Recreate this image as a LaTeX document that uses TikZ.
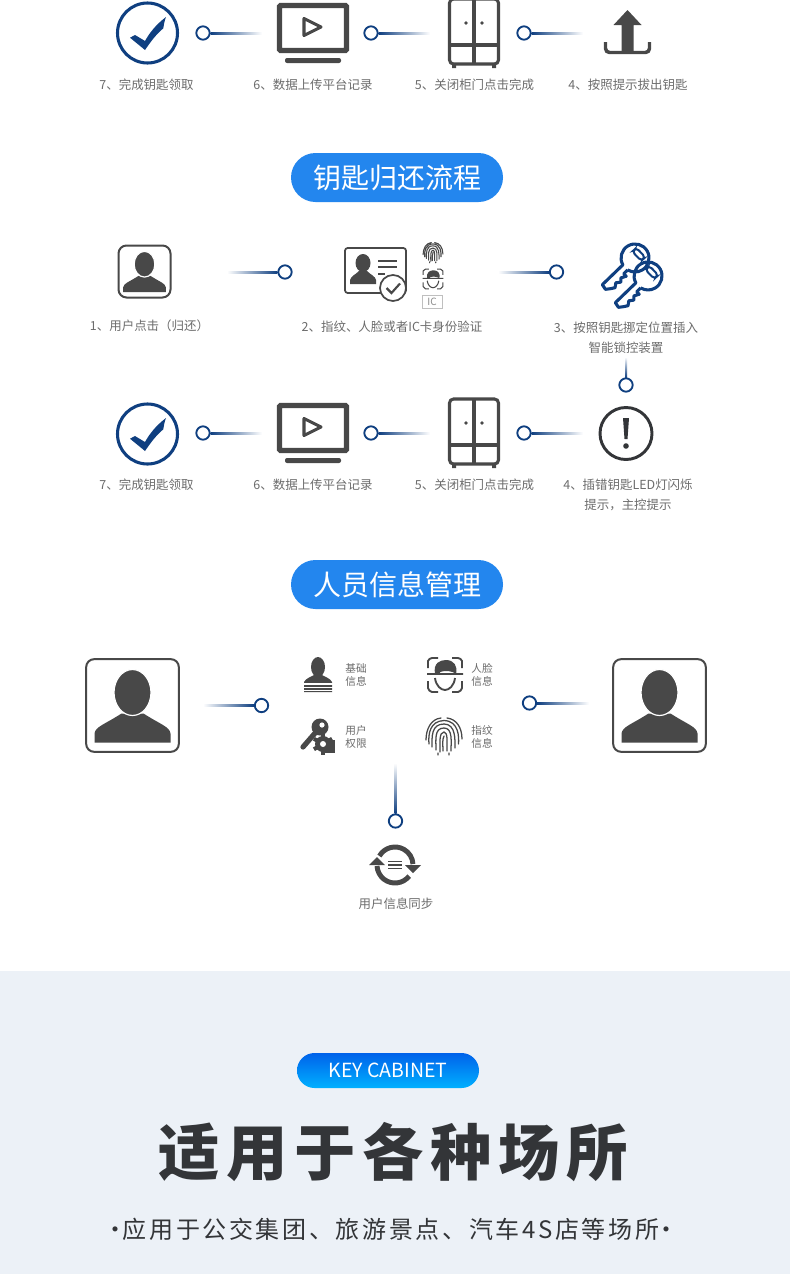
\documentclass[tikz,border=0pt]{standalone}
\usepackage{fontspec}
\setmainfont{Noto Sans CJK SC}
\usetikzlibrary{calc,shapes.misc}
\definecolor{navy}{HTML}{0F3F80}
\definecolor{icon}{HTML}{484848}
\definecolor{txt}{HTML}{6C6C6C}
\definecolor{band}{HTML}{ECF1F7}
\definecolor{pillblue}{HTML}{2386EE}
\definecolor{ink}{HTML}{333538}
\definecolor{gradtop}{HTML}{0062EA}
\definecolor{gradbot}{HTML}{00B0FF}
\tikzset{
  x=0.75pt,y=-0.75pt,
  ring/.style={circle,draw=navy,fill=white,line width=1.4pt,minimum size=10pt,inner sep=0pt},
  lbl/.style={text=txt,font=\fontsize{9.35pt}{11pt}\selectfont,inner sep=0pt},
  tiny/.style={text=txt,font=\fontsize{8pt}{9.75pt}\selectfont,inner sep=0pt,align=center},
  pill/.style={rounded rectangle,fill=pillblue,text=white,minimum width=159pt,minimum height=36.75pt,inner sep=0pt,
    font=\fontsize{21pt}{25pt}\selectfont},
  frame/.style={draw=icon,rounded corners=6pt,line width=1.5pt,fill=white,inner sep=0pt},
}
\newcommand\connR[2]{\shade[left color=navy,right color=white] ($(#1.east)+(0,-1)$) rectangle ($(#2)+(0,1)$);}
\newcommand\connL[2]{\shade[left color=white,right color=navy] ($(#2)+(0,-1)$) rectangle ($(#1.west)+(0,1)$);}
\newcommand\connV[2]{\shade[top color=white,bottom color=navy] ($(#2)+(-1,0)$) rectangle ($(#1.north)+(1,0)$);}
\newcommand\personIcon[3]{\begin{scope}[shift={(#1,#2)},scale=#3]
  \fill[icon] (-38,37) -- (-38,28) .. controls (-37,21) and (-28,19) .. (-11,8) -- (11,8) .. controls (28,19) and (37,21) .. (38,28) -- (38,37) -- cycle;
  \fill[icon,draw=white,line width=0.9pt] (0,-13) ellipse [x radius=18.5,y radius=23];
\end{scope}}
\newcommand\checkIcon[2]{\begin{scope}[shift={(#1,#2)}]
  \draw[navy,line width=2.3pt] (0,0) circle (30);
  \fill[navy] (-17.5,4.7) -- (-12.5,2) -- (-2.5,8) .. controls (2,0) and (8,-8) .. (18.5,-16) .. controls (16.5,-11) and (16.5,-8) .. (15.8,-4.7) .. controls (8,2) and (3,9) .. (-2.5,17) -- cycle;
\end{scope}}
\newcommand\tvIcon[2]{\begin{scope}[shift={(#1,#2)}]
  \draw[icon,line width=4.1pt,rounded corners=1pt] (-33.5,-27.5) rectangle (33.5,17.5);
  \draw[icon,line width=2.3pt,line join=round] (-9,-14.5) -- (8,-6) -- (-9,2.5) -- cycle;
  \fill[icon,rounded corners=1.5pt] (-28,25) rectangle (28,30);
\end{scope}}
\newcommand\cabinetIcon[2]{\begin{scope}[shift={(#1,#2)}]
  \draw[icon,line width=2.3pt,rounded corners=3pt] (-24.5,-34) rectangle (24.5,31);
  \draw[icon,line width=2.3pt] (0,-34) -- (0,31) (-24.5,12) -- (24.5,12);
  \fill[icon] (-8,-10) circle (1.8) (8,-10) circle (1.8);
  \fill[icon] (-22,31) rectangle (-18,35) (18,31) rectangle (22,35);
\end{scope}}
\newcommand\faceIcon[4]{\begin{scope}[shift={(#1,#2)},scale=#3]
  \draw[icon,line width=#4] (-17,-7) -- (-17,-14) to[bend left=30] (-13,-17) -- (-7,-17)
     (7,-17) -- (13,-17) to[bend left=30] (17,-14) -- (17,-7)
     (-17,6) -- (-17,13) to[bend right=30] (-13,17) -- (-7,17)
     (7,17) -- (13,17) to[bend right=30] (17,13) -- (17,6)
     (-18,-1) -- (18,-1);
  \fill[icon] (-10,-1) .. controls (-12,-12) and (-5,-15) .. (1,-15) .. controls (9,-15) and (13,-9) .. (11,-1) .. controls (8,-4) and (0,-5) .. (-5,-3) -- (-5,-1) -- cycle;
  \draw[icon,line width=#4] (-10,3) .. controls (-9,11) and (-4,15) .. (0,15) .. controls (4,15) and (9,11) .. (10,3);
\end{scope}}
\newcommand\fingerIcon[4]{\begin{scope}[shift={(#1,#2)},scale=#3]
  \draw[icon,line width=#4,line cap=round]
    (-1,14) .. controls (-1,8) and (-2,3) .. (0,-1)
    (-4,15) .. controls (-4,6) and (-5,-5) .. (0,-5) .. controls (4,-5) and (3,6) .. (3,14)
    (-8,13) .. controls (-8,3) and (-10,-9) .. (0,-9) .. controls (9,-9) and (7,5) .. (7,14)
    (-12,10) .. controls (-12,0) and (-13,-13) .. (0,-13) .. controls (12,-13) and (11,3) .. (11,11)
    (-15,7) .. controls (-16,-3) and (-14,-16) .. (0,-16.5) .. controls (15,-16) and (15,0) .. (14.5,7)
    (-18,3) .. controls (-18,-8) and (-13,-18) .. (-3,-19)
    (3,-19) .. controls (12,-18) and (18,-10) .. (18,2)
    (-6,18) -- (-6,16) (5,18) -- (5,16);
\end{scope}}
\newcommand\keyShape[3]{\begin{scope}[shift={(#1,#2)},rotate=#3]
  \draw[navy,line width=2.3pt,line join=round]
    (13.5,-3.5) -- (19,-3.5) -- (19,-7) -- (24,-4.5) -- (27,-7.5) -- (31,-4.5) -- (35,-7.5) -- (39,-5) -- (43,-2) -- (42,3.5) -- (13.5,3.5)
    arc[start angle=14.5,end angle=345.5,radius=14];
  \draw[navy,line width=1.5pt,rounded corners=2.5pt] (-8,-6.5) rectangle (-2.5,6.5);
\end{scope}}
\begin{document}
\begin{tikzpicture}
\clip (0,0) rectangle (790,1274);
\fill[white] (0,0) rectangle (790,1274);

% ---- top row
\checkIcon{147.5}{33}
\tvIcon{313}{33}
\cabinetIcon{474}{33}
\begin{scope}[shift={(627.5,33)}]
  \fill[icon] (0,-23) -- (14,-8) -- (6,-8) -- (6,19) -- (-6,19) -- (-6,-8) -- (-14,-8) -- cycle;
  \draw[icon,line width=2.6pt,rounded corners=3pt] (-22,9) -- (-22,19.5) -- (22,19.5) -- (22,9);
\end{scope}
\node[ring] (a1) at (203,33) {}; \coordinate (a1e) at (262,33); \connR{a1}{a1e}
\node[ring] (a2) at (371,33) {}; \coordinate (a2e) at (430,33); \connR{a2}{a2e}
\node[ring] (a3) at (524,33) {}; \coordinate (a3e) at (583,33); \connR{a3}{a3e}
\node[lbl] (ta7) at (146.5,85) {7、完成钥匙领取};
\node[lbl] (ta6) at (313,85) {6、数据上传平台记录};
\node[lbl] (ta5) at (474.5,85) {5、关闭柜门点击完成};
\node[lbl] (ta4) at (628,85) {4、按照提示拔出钥匙};

% ---- section 2
\node[pill] (p1) at (397,177.5) {钥匙归还流程};

\node[frame,minimum width=39pt,minimum height=39pt] (u1) at (144.5,271.5) {};
\personIcon{144.5}{271.5}{0.56}
\node[ring] (b1) at (285,272) {}; \coordinate (b1e) at (227,272); \connL{b1}{b1e}
\node[lbl] (tb1) at (149.5,326) {1、用户点击（归还）};

\draw[icon,line width=1.3pt,rounded corners=2pt] (345,248) rectangle (406,293);
\begin{scope}[shift={(363,273)}]
  \fill[icon] (-13,11) -- (-13,7) .. controls (-12,3) and (-8,2) .. (-4,-2) -- (4,-2) .. controls (8,2) and (12,3) .. (13,7) -- (13,11) -- cycle;
  \fill[icon] (0,-10) ellipse [x radius=7.5,y radius=9];
\end{scope}
\draw[icon,line width=1.2pt] (378,261) -- (397,261) (378,267) -- (397,267) (378,274) -- (385,274);
\draw[icon,line width=1.3pt,fill=white] (393,288) circle (13);
\draw[icon,line width=1.6pt] (386.5,288) -- (391.5,293) -- (400,283.5);
\fingerIcon{433}{253}{0.55}{0.8pt}
\faceIcon{433}{279}{0.58}{0.8pt}
\node[draw=black!25,text=black!45,inner sep=0pt,minimum width=15pt,minimum height=10pt,font=\fontsize{7.5pt}{8pt}\selectfont,line width=.6pt] (ic) at (432,302) {IC};
\node[lbl] (tb2) at (392,327) {2、指纹、人脸或者IC卡身份验证};

\node[ring] (b2) at (556.5,272) {}; \coordinate (b2e) at (498,272);
\shade[left color=white,middle color=icon,right color=navy] ($(b2e)+(0,-1)$) rectangle ($(b2.west)+(0,1)$);

\keyShape{635}{258}{224}
\keyShape{648}{276}{224}
\node[lbl] (tb3) at (626,328) {3、按照钥匙挪定位置插入};
\node[lbl] (tb3b) at (626,348) {智能锁控装置};
\node[ring] (b3) at (626,385) {}; \coordinate (b3e) at (626,357); \connV{b3}{b3e}

% ---- row 3
\checkIcon{147.5}{434}
\tvIcon{313}{433}
\cabinetIcon{474}{433}
\draw[ink,line width=2.2pt] (626,433.5) circle (26);
\fill[ink] (623,418) -- (629,418) -- (627.5,439) -- (624.5,439) -- cycle;
\fill[ink] (626,446) circle (2.8);
\node[ring] (c1) at (203,433) {}; \coordinate (c1e) at (262,433); \connR{c1}{c1e}
\node[ring] (c2) at (371,433) {}; \coordinate (c2e) at (430,433); \connR{c2}{c2e}
\node[ring] (c3) at (524,433) {}; \coordinate (c3e) at (583,433); \connR{c3}{c3e}
\node[lbl] (tc7) at (146.5,485) {7、完成钥匙领取};
\node[lbl] (tc6) at (313,485) {6、数据上传平台记录};
\node[lbl] (tc5) at (474.5,485) {5、关闭柜门点击完成};
\node[lbl] (tc4) at (628,485) {4、插错钥匙LED灯闪烁};
\node[lbl] (tc4b) at (628,505) {提示，主控提示};

% ---- section 3
\node[pill] (p2) at (397,584.5) {人员信息管理};

\node[frame,minimum width=69.5pt,minimum height=69.5pt] (u2) at (132.5,705.5) {};
\personIcon{132.5}{705.5}{1}
\node[frame,minimum width=69.5pt,minimum height=69.5pt] (u3) at (659.5,705.5) {};
\personIcon{659.5}{705.5}{1}
\node[ring] (d1) at (261.5,705.5) {}; \coordinate (d1e) at (203,705.5); \connL{d1}{d1e}
\node[ring] (d2) at (529.5,703) {}; \coordinate (d2e) at (589,703); \connR{d2}{d2e}

% basic info
\fill[icon] (318,667) ellipse [x radius=7,y radius=10];
\fill[icon] (304,692) -- (304,682) .. controls (306,678) and (311,677) .. (314,675) -- (322,675) .. controls (325,677) and (330,678) .. (332,682) -- (332,692) -- cycle;
\draw[white,line width=.8pt] (303,684) -- (333,684) (303,687.5) -- (333,687.5) (303,690.8) -- (333,690.8);
\node[tiny] (ti1) at (356,675) {基础\\信息};

\faceIcon{445}{675}{1}{1.4pt}
\node[tiny] (ti2) at (482,675) {人脸\\信息};

% permission
\fill[icon] (320,727) circle (8.5);
\draw[icon,line width=3.9pt,line cap=round] (316,732) -- (303,747);
\fill[white] (322,725) circle (2.6);
\fill[icon] (325,740) rectangle (335,753);
\fill[white] (323,752) rectangle (325,754);
\fill[icon] (323,744) circle (8);
\foreach \a in {0,60,...,300}{\fill[icon,rotate around={\a:(323,744)}] (321,733.5) rectangle (325,738);}
\fill[white] (323,744) circle (3);
\node[tiny] (ti3) at (356,736.5) {用户\\权限};

\fingerIcon{444}{737}{1}{0.95pt}
\node[tiny] (ti4) at (482,736.5) {指纹\\信息};

\node[ring] (d3) at (395.5,821) {}; \coordinate (d3e) at (395.5,763); \connV{d3}{d3e}

% sync
\begin{scope}[shift={(395,865)}]
  \draw[icon,line width=3.7pt] (-150:18) arc[start angle=-150,end angle=-3,radius=18];
  \draw[icon,line width=3.7pt] (38:18) arc[start angle=38,end angle=177,radius=18];
  \fill[icon] (10,0) -- (26,0) -- (18,8) -- cycle;
  \fill[icon] (-26,0) -- (-10,0) -- (-18,-8) -- cycle;
  \draw[icon,line width=1.2pt] (-7,-3.5) -- (7,-3.5) (-7,0) -- (7,0) (-7,3.5) -- (7,3.5);
\end{scope}
\node[lbl] (td) at (396,904) {用户信息同步};

% ---- band
\fill[band] (0,971) rectangle (790,1274);
\node[rounded rectangle,top color=gradtop,bottom color=gradbot,text=white,minimum width=136.5pt,minimum height=26.25pt,inner sep=0pt,font=\fontsize{14.6pt}{17pt}\selectfont] (p3) at (388,1070.5) {KEY CABINET};
\node[text=ink,inner sep=0pt,font=\fontsize{46pt}{50pt}\selectfont\bfseries\addfontfeature{LetterSpace=11}] (title) at (393,1152) {适用于各种场所};
\node[text=ink,inner sep=0pt,font=\fontsize{18pt}{22pt}\selectfont\addfontfeature{LetterSpace=11}] (sub) at (391,1229) {·\kern-3.5pt 应用于公交集团、旅游景点、汽车4S店等场所\kern-3.5pt ·};
\end{tikzpicture}
\end{document}
